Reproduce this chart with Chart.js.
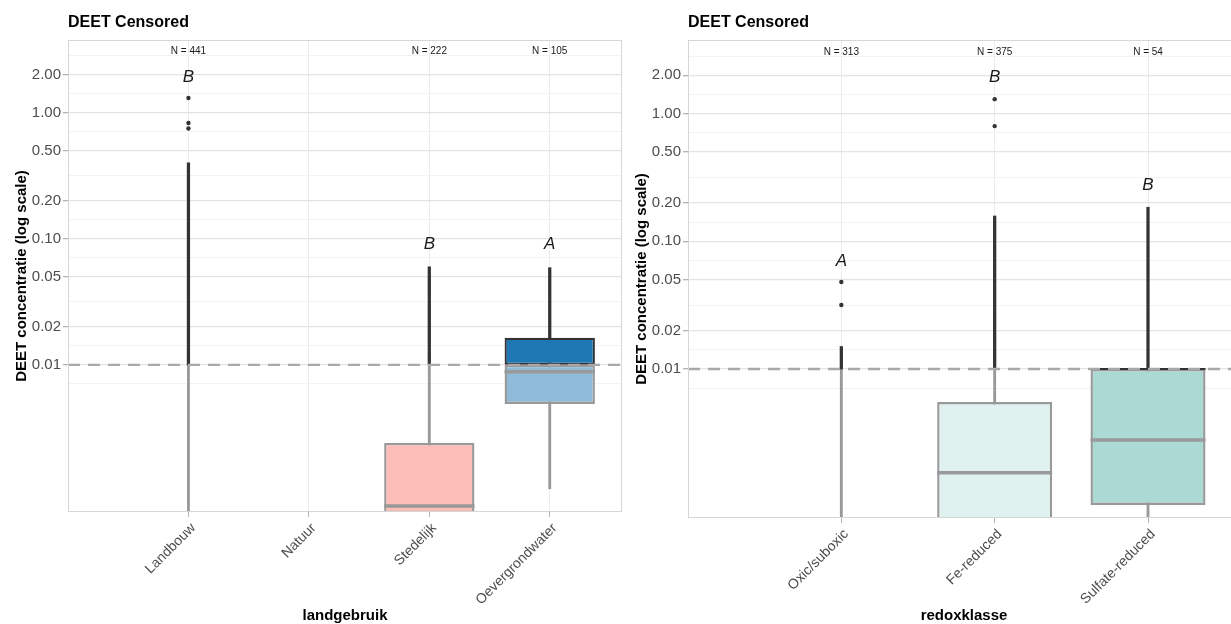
<!DOCTYPE html>
<html>
<head>
<meta charset="utf-8">
<script src="https://cdn.jsdelivr.net/npm/chart.js@4.4.1/dist/chart.umd.min.js"></script>
<style>
  html, body { margin: 0; padding: 0; background: #fff; overflow: hidden; }
  #wrap { position: relative; width: 1231px; height: 624px; overflow: hidden; }
  #left { position: absolute; left: 0; top: 0; }
  #right { position: absolute; left: 630px; top: 0; }
</style>
</head>
<body>
<div id="wrap">
  <canvas id="left" width="630" height="624"></canvas>
  <canvas id="right" width="614" height="624"></canvas>
</div>
<script>
// detection limit (dashed line) and y range of both panels
const detectionLimit = 0.01;
const yMin = 0.00068;
const yMax = 3.78;
const majorTicks = [0.01, 0.02, 0.05, 0.1, 0.2, 0.5, 1, 2];
const nLabelY = 3.05;

// --- landgebruik ---
const landLabels = ['Landbouw', 'Natuur', 'Stedelijk', 'Oevergrondwater'];
const landN = [441, null, 222, 105];
const landLetters = ['B', null, 'B', 'A'];
const landLetterY = [1.92, null, 0.09, 0.09];
const landWhiskerHigh = [0.40, null, 0.060, 0.059];
const landQ3 = [null, null, 0.0024, 0.0164];
const landMedian = [null, null, 0.00076, 0.0088];
const landQ1 = [null, null, 0.0005, 0.0049];
const landWhiskerLow = [0.0005, null, 0.0004, 0.00104];
const landOutliers = [[1.31, 0.83, 0.75], [], [], []];

// --- redoxklasse ---
const redoxLabels = ['Oxic/suboxic', 'Fe-reduced', 'Sulfate-reduced'];
const redoxN = [313, 375, 54];
const redoxLetters = ['A', 'B', 'B'];
const redoxLetterY = [0.07, 1.92, 0.275];
const redoxWhiskerHigh = [0.015, 0.158, 0.185];
const redoxQ3 = [null, 0.0055, 0.0100];
const redoxMedian = [null, 0.00154, 0.00278];
const redoxQ1 = [null, 0.0005, 0.00086];
const redoxWhiskerLow = [0.0005, 0.0004, 0.0005];
const redoxOutliers = [[0.048, 0.0317], [1.30, 0.80], []];

// fills: part above / below the detection limit
const landFillHigh = ['#1f78b4', null, '#fa7b6e', '#1f78b4'];
const landFillLow = ['#8fbbd9', null, '#fcbdb6', '#8fbbd9'];
const redoxFillHigh = [null, '#bfe5e0', '#57b5ad'];
const redoxFillLow = [null, '#dff2ef', '#abdad5'];

const boxWidth = 0.75;
const darkLine = '#333333';
const greyLine = '#999999';

Chart.defaults.font.family = '"Liberation Sans", Arial, sans-serif';

function boxHalfWidth(chart) {
  const x = chart.scales.x;
  return Math.abs(x.getPixelForValue(1) - x.getPixelForValue(0)) * boxWidth / 2;
}

function notesPlugin(p) {
  return {
    id: 'notes',
    afterDatasetsDraw(chart) {
      const { ctx, chartArea: a, scales: { x, y } } = chart;
      const yd = y.getPixelForValue(detectionLimit);
      ctx.save();
      // box tops sitting exactly on the limit keep a dark edge
      ctx.strokeStyle = darkLine;
      ctx.lineWidth = 2.2;
      p.q3.forEach((v, i) => {
        if (v !== detectionLimit) return;
        const cx = x.getPixelForValue(i + 1);
        const hw = boxHalfWidth(chart);
        ctx.beginPath();
        ctx.moveTo(cx - hw, yd);
        ctx.lineTo(cx + hw, yd);
        ctx.stroke();
      });
      // detection limit line
      ctx.strokeStyle = '#a9a9a9';
      ctx.lineWidth = 2.4;
      ctx.setLineDash([12, 8]);
      ctx.beginPath();
      ctx.moveTo(a.left, yd);
      ctx.lineTo(a.right, yd);
      ctx.stroke();
      ctx.setLineDash([]);
      // panel border
      ctx.strokeStyle = '#d6d6d6';
      ctx.lineWidth = 1;
      ctx.strokeRect(a.left + 0.5, a.top + 0.5, a.width - 1, a.height - 1);
      // N labels + letters
      ctx.textAlign = 'center';
      ctx.textBaseline = 'middle';
      ctx.fillStyle = '#1a1a1a';
      p.n.forEach((n, i) => {
        if (n == null) return;
        ctx.font = '10px "Liberation Sans", Arial, sans-serif';
        ctx.fillText('N = ' + n, x.getPixelForValue(i + 1), y.getPixelForValue(nLabelY));
      });
      p.letters.forEach((t, i) => {
        if (t == null) return;
        ctx.font = 'italic 17px "Liberation Sans", Arial, sans-serif';
        ctx.fillText(t, x.getPixelForValue(i + 1), y.getPixelForValue(p.letterY[i]));
      });
      ctx.restore();
    }
  };
}

function pts(arr, fn) {
  const out = [];
  arr.forEach((v, i) => {
    const r = fn(v, i);
    if (r) out.push(r);
  });
  return out;
}

function makePanel(id, p) {
  const fillOf = (list) => (ctx) => ctx.raw ? list[ctx.raw.x - 1] : 'rgba(0,0,0,0)';
  const outliers = [];
  p.outliers.forEach((list, i) => list.forEach(v => outliers.push({ x: i + 1, y: v })));

  const datasets = [
    {
      type: 'scatter',
      data: outliers,
      pointRadius: 2.2,
      pointBackgroundColor: darkLine,
      pointBorderWidth: 0,
      order: 0
    },
    {
      type: 'scatter',
      data: pts(p.median, (v, i) => v == null ? null : { x: i + 1, y: v }),
      pointStyle: 'line',
      pointRadius: (ctx) => boxHalfWidth(ctx.chart),
      pointBorderColor: greyLine,
      pointBorderWidth: 3.5,
      order: 1
    },
    {
      type: 'bar',
      data: pts(p.q3, (v, i) => v == null || v <= detectionLimit ? null : { x: i + 1, y: [detectionLimit, v] }),
      backgroundColor: fillOf(p.fillHigh),
      borderColor: darkLine,
      borderWidth: 2.2,
      borderSkipped: false,
      grouped: false,
      categoryPercentage: 1,
      barPercentage: boxWidth,
      clip: 0,
      order: 2
    },
    {
      type: 'bar',
      data: pts(p.q1, (v, i) => v == null ? null : { x: i + 1, y: [v, Math.min(p.q3[i], detectionLimit)] }),
      backgroundColor: fillOf(p.fillLow),
      borderColor: greyLine,
      borderWidth: 2.4,
      borderSkipped: false,
      grouped: false,
      categoryPercentage: 1,
      barPercentage: boxWidth,
      clip: 0,
      order: 2
    },
    {
      type: 'bar',
      data: pts(p.whiskerHigh, (v, i) => v == null ? null : { x: i + 1, y: [detectionLimit, v] }),
      backgroundColor: darkLine,
      borderWidth: 0,
      grouped: false,
      barThickness: 2.6,
      clip: 0,
      order: 3
    },
    {
      type: 'bar',
      data: pts(p.whiskerLow, (v, i) => v == null ? null : { x: i + 1, y: [v, detectionLimit] }),
      backgroundColor: greyLine,
      borderWidth: 0,
      grouped: false,
      barThickness: 2.2,
      clip: 0,
      order: 3
    }
  ];

  const minorTicks = [];
  const withEdges = [majorTicks[0] / 2].concat(majorTicks, [majorTicks[majorTicks.length - 1] * 2]);
  for (let i = 0; i < withEdges.length - 1; i++) minorTicks.push(Math.sqrt(withEdges[i] * withEdges[i + 1]));
  const isMajor = (v) => majorTicks.some(m => Math.abs(m - v) < 1e-9);
  const allTicks = majorTicks.concat(minorTicks).sort((a, b) => a - b);

  return new Chart(document.getElementById(id), {
    type: 'bar',
    data: { datasets },
    options: {
      responsive: false,
      animation: false,
      events: [],
      layout: { padding: { left: 0, right: p.padRight, top: 0, bottom: 0 } },
      plugins: {
        legend: { display: false },
        tooltip: { enabled: false },
        title: {
          display: true,
          text: 'DEET Censored',
          align: 'start',
          fullSize: false,
          color: '#000',
          font: { size: 16, weight: 'bold' },
          padding: { top: 13, bottom: 7.8 }
        }
      },
      scales: {
        x: {
          type: 'linear',
          min: 0,
          max: p.xMax,
          offset: false,
          afterBuildTicks: (s) => { s.ticks = p.labels.map((_, i) => ({ value: i + 1 })); },
          afterFit: (s) => { s.height = p.bottomHeight; },
          ticks: {
            callback: (v, i) => p.labels[i],
            autoSkip: false,
            minRotation: 45,
            maxRotation: 45,
            color: '#4d4d4d',
            font: { size: 14 },
            padding: 3,
            labelOffset: 5
          },
          grid: { color: '#ebebeb', lineWidth: 1, tickColor: '#b3b3b3', tickLength: 5, offset: false },
          border: { display: false },
          title: {
            display: true,
            text: p.xTitle,
            color: '#000',
            font: { size: 15, weight: 'bold', lineHeight: 1 },
            padding: { top: 0, bottom: 0.5 }
          }
        },
        y: {
          type: 'logarithmic',
          min: yMin,
          max: yMax,
          afterBuildTicks: (s) => { s.ticks = allTicks.map(v => ({ value: v })); },
          afterFit: (s) => { s.width = p.yWidth; },
          ticks: {
            callback: (v) => isMajor(v) ? v.toFixed(2) : '',
            autoSkip: false,
            color: '#4d4d4d',
            font: { size: 15 },
            padding: 2
          },
          grid: {
            color: (ctx) => isMajor(ctx.tick.value) ? '#e4e4e4' : '#f3f3f3',
            lineWidth: (ctx) => isMajor(ctx.tick.value) ? 1.3 : 1,
            tickColor: (ctx) => isMajor(ctx.tick.value) ? '#b3b3b3' : 'rgba(0,0,0,0)',
            tickLength: 5
          },
          border: { display: false },
          title: {
            display: true,
            text: 'DEET concentratie (log scale)',
            color: '#000',
            font: { size: 15, weight: 'bold', lineHeight: 1 },
            padding: { top: p.yTitlePad, bottom: 0 }
          }
        }
      }
    },
    plugins: [notesPlugin(p)]
  });
}

makePanel('left', {
  labels: landLabels, n: landN, letters: landLetters, letterY: landLetterY,
  whiskerHigh: landWhiskerHigh, q3: landQ3, median: landMedian, q1: landQ1,
  whiskerLow: landWhiskerLow, outliers: landOutliers,
  fillHigh: landFillHigh, fillLow: landFillLow,
  xTitle: 'landgebruik', xMax: 4.6, yWidth: 68, padRight: 8, bottomHeight: 112, yTitlePad: 14.5
});

makePanel('right', {
  labels: redoxLabels, n: redoxN, letters: redoxLetters, letterY: redoxLetterY,
  whiskerHigh: redoxWhiskerHigh, q3: redoxQ3, median: redoxMedian, q1: redoxQ1,
  whiskerLow: redoxWhiskerLow, outliers: redoxOutliers,
  fillHigh: redoxFillHigh, fillLow: redoxFillLow,
  xTitle: 'redoxklasse', xMax: 3.6, yWidth: 58, padRight: 0, bottomHeight: 106, yTitlePad: 4
});
</script>
</body>
</html>
